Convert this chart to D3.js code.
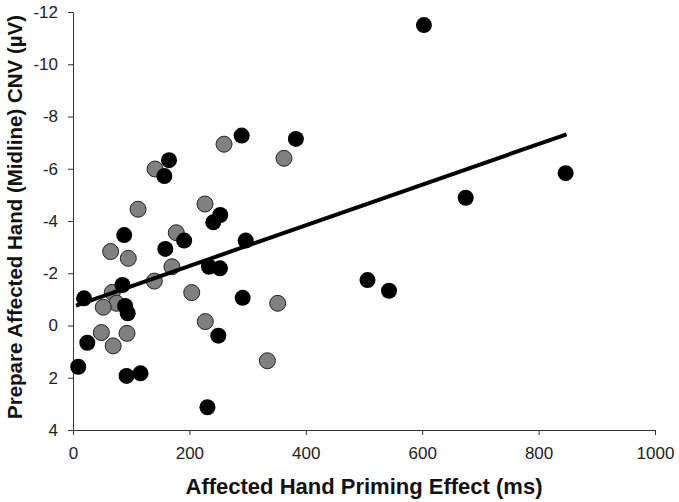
<html>
<head>
<script src="https://d3js.org/d3.v7.min.js"></script>
<style>
body { margin: 0; background: #fff; }
svg { font-family: "Liberation Sans", Arial, sans-serif; }
.axis path, .axis line { stroke: #333; }
.axis text { font-size: 17px; fill: #222; }
.title { font-weight: bold; fill: #111; }
</style>
</head>
<body>
<div id="root"></div>
<script>
// black dots: priming effect (ms) and CNV (uV)
var blackX = [9, 24.6, 19, 88, 85, 89.5, 94, 92, 116, 165, 157, 158.6, 191, 241, 253, 233.7, 252.6, 296.7, 291.5, 249.7, 231, 289.8, 383, 603, 846.5, 674.7, 506, 543];
var blackY = [1.58, 0.66, -1.04, -3.46, -1.55, -0.75, -0.47, 1.93, 1.83, -6.33, -5.72, -2.93, -3.25, -3.95, -4.23, -2.25, -2.19, -3.25, -1.06, 0.39, 3.13, -7.27, -7.14, -11.5, -5.83, -4.89, -1.74, -1.33];

// gray dots
var grayX = [141, 111.7, 64.7, 95, 67.5, 75, 52, 48.7, 69, 92.8, 177.5, 170, 139.7, 204, 226.8, 227.3, 351.7, 334, 362.5, 259.5];
var grayY = [-5.99, -4.45, -2.83, -2.57, -1.27, -0.85, -0.7, 0.27, 0.78, 0.3, -3.55, -2.25, -1.7, -1.26, -4.65, -0.15, -0.85, 1.35, -6.4, -6.94];

// fitted line ends
var fitX = [5, 848];
var fitY = [-0.76, -7.32];

var xTicks = [0, 200, 400, 600, 800, 1000];
var yTicks = [-12, -10, -8, -6, -4, -2, 0, 2, 4];

var xTitle = "Affected Hand Priming Effect (ms)";
var yTitle = "Prepare Affected Hand (Midline) CNV (\u00b5V)";

var width = 679, height = 502;

var x = d3.scaleLinear().domain([0, 1000]).range([73, 655]);
var y = d3.scaleLinear().domain([-12, 4]).range([12, 430]);

var svg = d3.select("#root").append("svg")
  .attr("width", width)
  .attr("height", height);

/* ejes */
svg.append("g")
  .attr("class", "x axis")
  .attr("transform", "translate(0,430)")
  .call(d3.axisBottom(x).tickValues(xTicks).tickFormat(d => String(d)).tickSizeOuter(0).tickSize(5).tickPadding(12));

svg.append("g")
  .attr("class", "y axis")
  .attr("transform", "translate(73,0)")
  .call(d3.axisLeft(y).tickValues(yTicks).tickFormat(d => String(d)).tickSizeOuter(0).tickSize(5).tickPadding(10));

/* puntos grises */
var grays = grayX.map((v, i) => ({x: v, y: grayY[i]}));
var blacks = blackX.map((v, i) => ({x: v, y: blackY[i]}));

svg.append("g").selectAll("circle")
  .data(grays).enter()
  .append("circle")
  .attr("cx", d => x(d.x))
  .attr("cy", d => y(d.y))
  .attr("r", 8)
  .attr("fill", "#808080")
  .attr("stroke", "#222")
  .attr("stroke-width", 1);

/* puntos negros */
svg.append("g").selectAll("circle")
  .data(blacks).enter()
  .append("circle")
  .attr("cx", d => x(d.x))
  .attr("cy", d => y(d.y))
  .attr("r", 8)
  .attr("fill", "#000");

/* linea de ajuste */
var fit = fitX.map((v, i) => ({x: v, y: fitY[i]}));
svg.append("path")
  .datum(fit)
  .attr("d", d3.line().x(d => x(d.x)).y(d => y(d.y)))
  .attr("stroke", "#000")
  .attr("stroke-width", 4)
  .attr("fill", "none");

/* titulos */
svg.append("text")
  .attr("class", "title")
  .attr("x", 364)
  .attr("y", 494)
  .attr("text-anchor", "middle")
  .style("font-size", "22px")
  .text(xTitle);

svg.append("text")
  .attr("class", "title")
  .attr("transform", "translate(22,217) rotate(-90)")
  .attr("text-anchor", "middle")
  .style("font-size", "20.5px")
  .text(yTitle);
</script>
</body>
</html>
